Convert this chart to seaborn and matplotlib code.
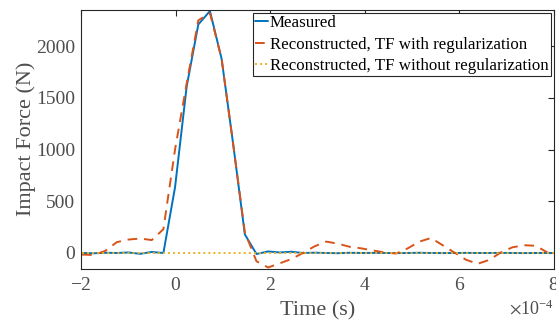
import numpy as np
import pandas as pd
import matplotlib
matplotlib.use("Agg")
import matplotlib.pyplot as plt
import seaborn as sns

# time samples (s)
time_s = [-1.98e-4, -1.734e-4, -1.488e-4, -1.242e-4, -0.996e-4, -0.75e-4, -0.504e-4,
          -0.258e-4, -0.012e-4, 0.234e-4, 0.48e-4, 0.726e-4, 0.972e-4, 1.218e-4,
          1.464e-4, 1.71e-4, 1.956e-4, 2.202e-4, 2.448e-4, 2.694e-4, 2.94e-4,
          3.186e-4, 3.432e-4, 3.678e-4, 3.924e-4, 4.17e-4, 4.416e-4, 4.662e-4,
          4.908e-4, 5.154e-4, 5.4e-4, 5.646e-4, 5.892e-4, 6.138e-4, 6.384e-4,
          6.63e-4, 6.876e-4, 7.122e-4, 7.368e-4, 7.614e-4, 7.86e-4, 8.106e-4]

measured = [0, -3, 2, 0, 5, -8, 10, 0, 635, 1610, 2210, 2340, 1880, 1050,
            180, -10, 15, 5, 12, 0, 3, 0, -2, 2, 0, 1, 0, -1, 0, 2, 0, -1,
            0, 1, 0, 0, 1, 0, -1, 0, 0, 0]

recon_reg = [-15, -20, 20, 105, 130, 140, 125, 230, 1000, 1640, 2250, 2320, 1880,
             1050, 200, -80, -140, -100, -58, 0, 65, 110, 90, 60, 45, 25, 5, -5,
             45, 110, 145, 75, 5, -65, -105, -67, 5, 55, 75, 70, 5, -40]

recon_noreg = [0] * len(time_s)

labels = ["Measured", "Reconstructed, TF with regularization",
          "Reconstructed, TF without regularization"]

sns.set_theme(style="white")
plt.rcParams["font.family"] = ["Liberation Serif", "DejaVu Serif"]
plt.rcParams["mathtext.fontset"] = "stix"
plt.rcParams["axes.unicode_minus"] = False

df = pd.DataFrame({"t": time_s, "m": measured, "r": recon_reg, "n": recon_noreg})

fig = plt.figure(figsize=(5.56, 3.2), dpi=100)
ax = fig.add_axes([81 / 556, 1 - 268.5 / 320, (554 - 81) / 556, (268.5 - 10) / 320])

sns.lineplot(data=df, x="t", y="m", ax=ax, color="#0072BD", lw=1.4, label=labels[0])
sns.lineplot(data=df, x="t", y="r", ax=ax, color="#D95319", lw=1.4, label=labels[1],
             dashes=False)
ax.lines[-1].set_dashes([5, 3.5])
sns.lineplot(data=df, x="t", y="n", ax=ax, color="#EDB120", lw=1.4, label=labels[2])
ax.lines[-1].set_dashes([1, 1.6])

ax.set_xlim(-2e-4, 8e-4)
ax.set_ylim(-150, 2350)
ax.set_xticks(np.arange(-2e-4, 8.01e-4, 2e-4))
ax.set_yticks([0, 500, 1000, 1500, 2000])
ax.ticklabel_format(axis="x", style="sci", scilimits=(-4, -4), useMathText=True)
ax.xaxis.get_offset_text().set_visible(False)

gray = "#262626"
tgray = "#4d4d4d"
for s in ax.spines.values():
    s.set_color(gray)
    s.set_linewidth(0.8)
ax.tick_params(direction="in", length=4, width=0.8, color=gray, labelcolor=tgray,
               labelsize=14, top=True, right=True)
ax.tick_params(axis="x", pad=6)
ax.tick_params(axis="y", pad=4)

fig.text(554 / 556, 1 - 309 / 320, r"$\times$10$^{\mathdefault{-4}}$", ha="right",
         va="center", fontsize=13, color=tgray)

ax.set_xlabel("Time (s)", fontsize=16, color=tgray, labelpad=5)
ax.set_ylabel("Impact Force (N)", fontsize=16, color=tgray, labelpad=0)

leg = ax.legend(loc="upper right", fontsize=12.2, frameon=True, fancybox=False,
                framealpha=1, edgecolor=gray, handlelength=0.75, handletextpad=0.1,
                borderpad=0.17, labelspacing=0.3, borderaxespad=0.15)
leg.get_frame().set_linewidth(0.8)
for t in leg.get_texts():
    t.set_color("black")

fig.savefig("out.png", dpi=100)
